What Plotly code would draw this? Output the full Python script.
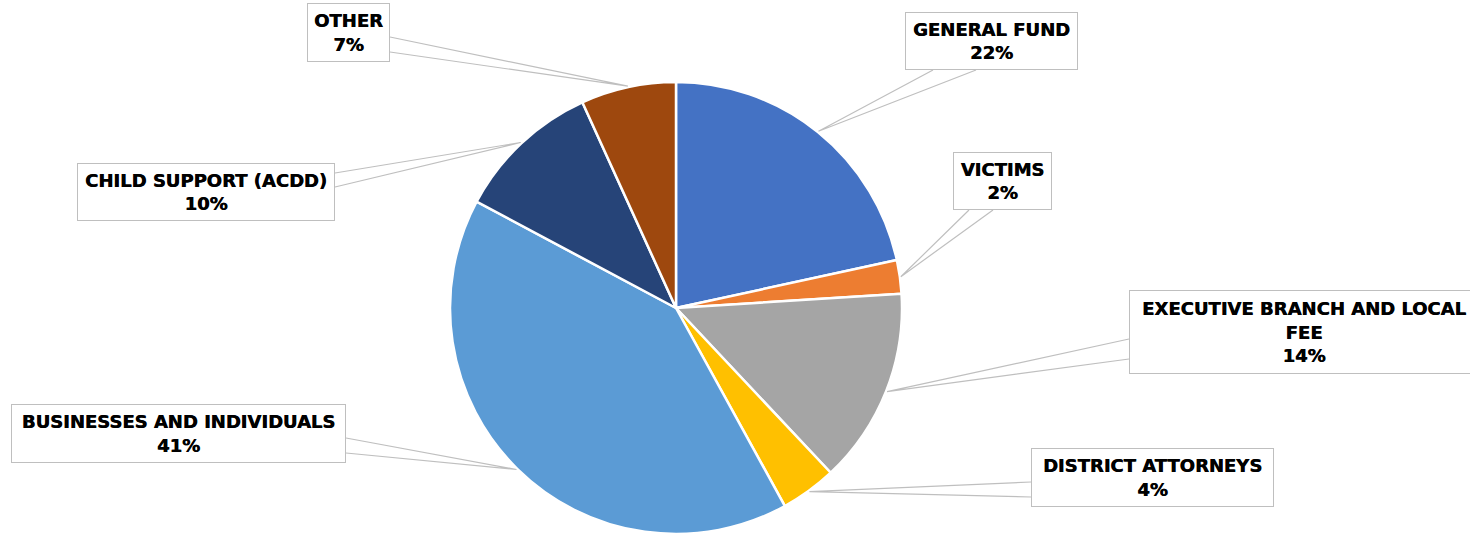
import math
import plotly.graph_objects as go

# ---- data ----
labels = ["GENERAL FUND", "VICTIMS", "EXECUTIVE BRANCH AND LOCAL FEE",
          "DISTRICT ATTORNEYS", "BUSINESSES AND INDIVIDUALS",
          "CHILD SUPPORT (ACDD)", "OTHER"]
values = [21.6, 2.4, 14.0, 4.0, 40.8, 10.4, 6.8]
colors = ["#4472C4", "#ED7D31", "#A5A5A5", "#FFC000", "#5B9BD5", "#264478", "#9E480E"]

# ---- layout constants (pixels) ----
W, H = 1470, 536
CX, CY, R = 676, 308, 226
GREY = "#BFBFBF"

# callout boxes: left, top, right, bottom, and the two points where the leader meets the box
boxes = {
    "GENERAL FUND": (905, 12, 1078, 70, (933, 70), (976, 70)),
    "VICTIMS": (953, 152, 1052, 210, (969, 210), (993, 210)),
    "EXECUTIVE BRANCH AND LOCAL FEE": (1129, 290, 1479, 374, (1129, 339), (1129, 359)),
    "DISTRICT ATTORNEYS": (1031, 448, 1274, 507, (1031, 482), (1031, 497)),
    "BUSINESSES AND INDIVIDUALS": (11, 404, 346, 463, (346, 438), (346, 453)),
    "CHILD SUPPORT (ACDD)": (77, 163, 335, 221, (335, 173), (335, 187)),
    "OTHER": (307, 3, 390, 62, (390, 37), (390, 52)),
}
wrap = {"EXECUTIVE BRANCH AND LOCAL FEE": "EXECUTIVE BRANCH AND LOCAL<br>FEE"}


def px(x):
    return x / W


def py(y):
    return 1 - y / H


fig = go.Figure(go.Pie(
    labels=labels, values=values, sort=False, direction="clockwise", rotation=0,
    marker=dict(colors=colors, line=dict(color="white", width=2.5)),
    textinfo="none", hoverinfo="label+percent", showlegend=False,
    domain=dict(x=[px(CX - R), px(CX + R)], y=[py(CY + R), py(CY - R)]),
))

total = sum(values)
cum = 0.0
shapes, annotations = [], []
for lab, v in zip(labels, values):
    mid = (cum + v / 2) / total * 2 * math.pi
    cum += v
    tx = CX + (R + 1) * math.sin(mid)
    ty = CY - (R + 1) * math.cos(mid)
    l, t, r, b, a1, a2 = boxes[lab]
    path = (f"M {px(a1[0])} {py(a1[1])} L {px(tx)} {py(ty)} "
            f"L {px(a2[0])} {py(a2[1])}")
    shapes.append(dict(type="path", xref="paper", yref="paper", path=path,
                       line=dict(color=GREY, width=1.2), fillcolor="white",
                       layer="above"))
    pct = round(v / total * 100)
    annotations.append(dict(
        x=px(l), y=py(t), xref="paper", yref="paper", xanchor="left", yanchor="top",
        width=r - l - 2, height=b - t - 2, borderpad=0, borderwidth=1,
        bordercolor=GREY, bgcolor="white", showarrow=False, align="center",
        valign="middle",
        text=f"{wrap.get(lab, lab)}<br>{pct}%",
        font=dict(family="DejaVu Sans", size=18, color="black", weight="bold",
                  shadow="0.5px 0px 0px black"),
    ))

fig.update_layout(
    width=W, height=H, autosize=False,
    margin=dict(l=0, r=0, t=0, b=0),
    paper_bgcolor="white", plot_bgcolor="white",
    shapes=shapes, annotations=annotations,
)

fig.write_html("out.html", config={"displayModeBar": False},
               post_script="document.body.style.margin='0px';document.body.style.overflow='hidden';")
